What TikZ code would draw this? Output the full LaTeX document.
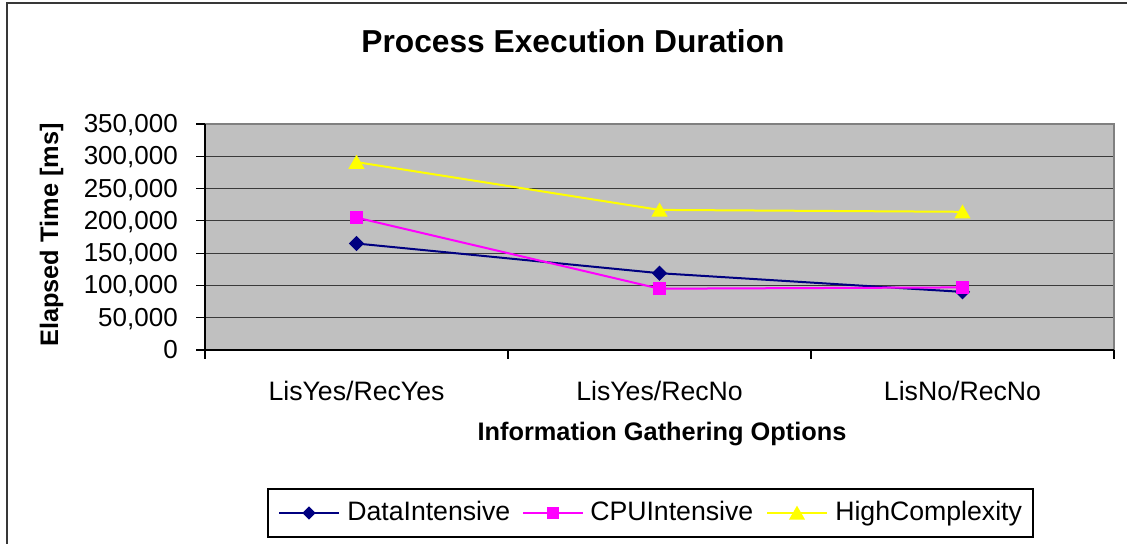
\documentclass[tikz,border=0pt]{standalone}
\usepackage{fontspec}
\setmainfont{Liberation Sans}
\usetikzlibrary{shapes.geometric}

\definecolor{plotbg}{HTML}{C0C0C0}
\definecolor{gridc}{HTML}{3A3A3A}
\definecolor{borderc}{HTML}{808080}
\definecolor{framec}{HTML}{383838}
\definecolor{dataint}{HTML}{000080}
\definecolor{cpuint}{HTML}{FF00FF}
\definecolor{highcx}{HTML}{FFFF00}

\begin{document}
\begin{tikzpicture}[x=0.75pt,y=-0.75pt,
  ticklbl/.style={font=\fontsize{19.5}{19.5}\selectfont, anchor=base east, inner sep=0pt},
  catlbl/.style={font=\fontsize{20}{20}\selectfont, anchor=base, inner sep=0pt},
  axtitle/.style={font=\bfseries\fontsize{19}{19}\selectfont, anchor=base, inner sep=0pt},
  charttitle/.style={font=\bfseries\fontsize{23.8}{23.8}\selectfont, anchor=base, inner sep=0pt},
  legtext/.style={font=\fontsize{20}{20}\selectfont, anchor=base west, inner sep=0pt},
  gridline/.style={gridc, line width=0.9pt},
  axisline/.style={black, line width=0.9pt},
  serline/.style={line width=1.5pt},
  mdiamond/.style={diamond, fill=dataint, draw=none, minimum width=11.5pt, minimum height=11.5pt, inner sep=0pt},
  msquare/.style={rectangle, fill=cpuint, draw=none, minimum size=9.5pt, inner sep=0pt},
  mtriangle/.style={regular polygon, regular polygon sides=3, fill=highcx, draw=none, minimum size=14pt, inner sep=0pt, yshift=-1.5pt},
]
\useasboundingbox (0,0) rectangle (1127,543);
\fill[white] (0,0) rectangle (1127,543);

% outer chart frame (continues past the page edges)
\draw[framec, line width=1.3pt] (7,546) -- (7,3) -- (1130,3);

% title
\node[charttitle] (title) at (573,52) {Process Execution Duration};

% plot area
\fill[plotbg] (205,124) rectangle (1114,350);
\foreach \k in {1,...,6}
  \draw[gridline] (205,{350-\k*226/7}) -- (1114,{350-\k*226/7});
\draw[borderc, line width=1.5pt] (205,124) -- (1114,124) -- (1114,350);

% axes and ticks
\draw[axisline] (205,124) -- (205,359);
\draw[axisline] (196,350) -- (1114,350);
\foreach \k in {1,...,7}
  \draw[axisline] (196,{350-\k*226/7}) -- (205,{350-\k*226/7});
\foreach \x in {508,811,1114}
  \draw[axisline] (\x,350) -- (\x,359);

% value axis labels
\node[ticklbl] (v0) at (178,358.5) {0};
\node[ticklbl] (v1) at (178,326.2) {50,000};
\node[ticklbl] (v2) at (178,293.9) {100,000};
\node[ticklbl] (v3) at (178,261.6) {150,000};
\node[ticklbl] (v4) at (178,229.4) {200,000};
\node[ticklbl] (v5) at (178,197.1) {250,000};
\node[ticklbl] (v6) at (178,164.8) {300,000};
\node[ticklbl] (v7) at (178,132.5) {350,000};

% category labels
\node[catlbl] (cat1) at (356.5,400) {LisYes/RecYes};
\node[catlbl] (cat2) at (659.5,400) {LisYes/RecNo};
\node[catlbl] (cat3) at (962.5,400) {LisNo/RecNo};

% axis titles
\node[axtitle] (xtitle) at (662,440) {Information Gathering Options};
\node[axtitle, rotate=90] (ytitle) at (58,235) {Elapsed Time [ms]};

% data points
\coordinate (d1) at (356.5,243.5);
\coordinate (d2) at (659.5,273.2);
\coordinate (d3) at (962.5,291.9);
\coordinate (c1) at (356.5,217.6);
\coordinate (c2) at (659.5,288.7);
\coordinate (c3) at (962.5,287.4);
\coordinate (h1) at (356.5,162.1);
\coordinate (h2) at (659.5,209.9);
\coordinate (h3) at (962.5,211.8);

% DataIntensive
\draw[serline, dataint] (d1) -- (d2) -- (d3);
\foreach \p in {d1,d2,d3} \node[mdiamond] (m\p) at (\p) {};
% CPUIntensive
\draw[serline, cpuint] (c1) -- (c2) -- (c3);
\foreach \p in {c1,c2,c3} \node[msquare] (m\p) at (\p) {};
% HighComplexity
\draw[serline, highcx] (h1) -- (h2) -- (h3);
\foreach \p in {h1,h2,h3} \node[mtriangle] (m\p) at (\p) {};

% legend
\draw[black, line width=0.8pt, fill=white] (268,489) rectangle (1033,537);
\coordinate (lda) at (279,513);
\coordinate (ldb) at (339,513);
\draw[serline, dataint] (lda) -- (ldb);
\node[mdiamond, minimum width=10pt, minimum height=10pt] (ldm) at (309,513) {};
\node[legtext] (ldt) at (347,520.5) {DataIntensive};

\coordinate (lca) at (523,513);
\coordinate (lcb) at (583,513);
\draw[serline, cpuint] (lca) -- (lcb);
\node[msquare, minimum size=8.5pt] (lcm) at (553,513) {};
\node[legtext] (lct) at (590,520.5) {CPUIntensive};

\coordinate (lha) at (767,513);
\coordinate (lhb) at (827,513);
\draw[serline, highcx] (lha) -- (lhb);
\node[mtriangle] (lhm) at (797,513) {};
\node[legtext] (lht) at (835,520.5) {HighComplexity};
\end{tikzpicture}
\end{document}
